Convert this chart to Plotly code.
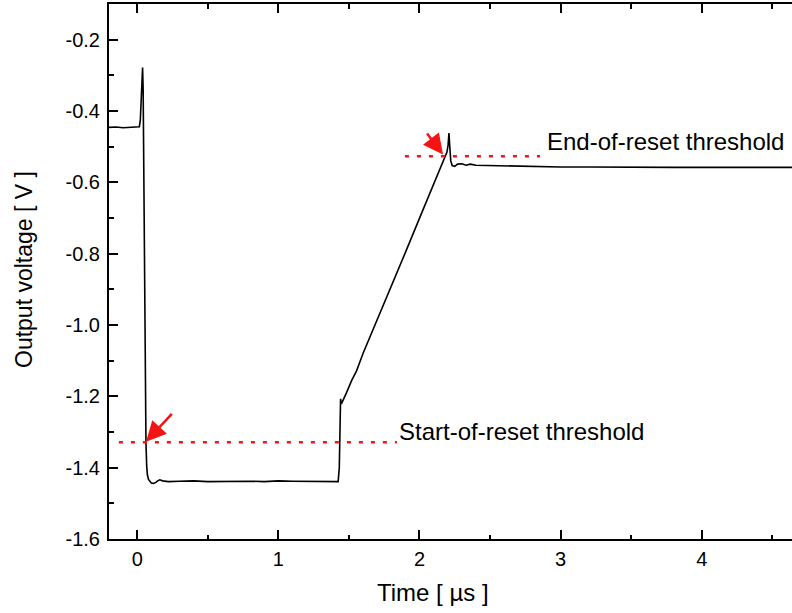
import plotly.graph_objects as go

# ---- data (time in µs, voltage in V) ----
time_us = [
    -0.20, -0.15, -0.10, -0.05, 0.00, 0.015, 0.022, 0.030, 0.038, 0.042, 0.046,
    0.052, 0.058, 0.062, 0.067, 0.072, 0.080, 0.090, 0.100, 0.115, 0.130,
    0.145, 0.160, 0.180, 0.220, 0.30, 0.40, 0.50, 0.60, 0.70, 0.80, 0.90,
    1.00, 1.10, 1.20, 1.30, 1.40, 1.424, 1.432, 1.437, 1.441, 1.447, 1.465,
    1.484, 1.519, 1.555, 1.60, 1.70, 1.80, 1.90, 2.00, 2.10, 2.18, 2.195,
    2.203, 2.209, 2.215, 2.222, 2.232, 2.25, 2.27, 2.30, 2.33, 2.36, 2.40,
    2.50, 2.60, 2.80, 3.00, 3.20, 3.40, 3.60, 3.80, 4.00, 4.20, 4.40, 4.64,
]
voltage_v = [
    -0.446, -0.445, -0.447, -0.446, -0.446, -0.444, -0.425, -0.330, -0.278, -0.340, -0.600,
    -0.900, -1.200, -1.330, -1.395, -1.420, -1.433, -1.440, -1.443, -1.444, -1.442,
    -1.437, -1.434, -1.437, -1.439, -1.438, -1.437, -1.439, -1.438, -1.437, -1.438, -1.439,
    -1.437, -1.438, -1.438, -1.437, -1.438, -1.439, -1.400, -1.300, -1.207, -1.221, -1.203,
    -1.189, -1.156, -1.128, -1.080, -0.987, -0.892, -0.797, -0.701, -0.604, -0.527, -0.515,
    -0.495, -0.462, -0.500, -0.540, -0.553, -0.555, -0.549, -0.548, -0.552, -0.549, -0.552,
    -0.553, -0.554, -0.556, -0.557, -0.557, -0.558, -0.557, -0.558, -0.558, -0.558, -0.559, -0.558,
]

start_threshold_v = -1.329
start_threshold_x = [-0.13, 1.84]
end_threshold_v = -0.527
end_threshold_x = [1.897, 2.855]

x_tick_vals = [0, 1, 2, 3, 4]
x_tick_text = ["0", "1", "2", "3", "4"]
x_minor_vals = [0.5, 1.5, 2.5, 3.5, 4.5]
y_tick_vals = [-1.6, -1.4, -1.2, -1.0, -0.8, -0.6, -0.4, -0.2]
y_tick_text = ["-1.6", "-1.4", "-1.2", "-1.0", "-0.8", "-0.6", "-0.4", "-0.2"]
y_minor_vals = [-1.5, -1.3, -1.1, -0.9, -0.7, -0.5, -0.3, -0.1]

FONT = "Liberation Sans, Arial, sans-serif"
RED = "rgb(245,20,20)"

fig = go.Figure()
fig.add_trace(go.Scatter(x=time_us, y=voltage_v, mode="lines",
                         line=dict(color="black", width=1.6), showlegend=False))
fig.add_trace(go.Scatter(x=start_threshold_x, y=[start_threshold_v] * 2, mode="lines",
                         line=dict(color=RED, width=2.5, dash="4px,8px"), showlegend=False))
fig.add_trace(go.Scatter(x=end_threshold_x, y=[end_threshold_v] * 2, mode="lines",
                         line=dict(color=RED, width=2.5, dash="4px,8px"), showlegend=False))

annotations = [
    # arrows
    dict(x=0.062, y=-1.327, ax=0.255, ay=-1.245, xref="x", yref="y", axref="x", ayref="y",
         text="", showarrow=True, arrowhead=2, arrowsize=1.6, arrowwidth=2.5, arrowcolor=RED),
    dict(x=2.167, y=-0.522, ax=2.046, ay=-0.459, xref="x", yref="y", axref="x", ayref="y",
         text="", showarrow=True, arrowhead=2, arrowsize=1.6, arrowwidth=2.5, arrowcolor=RED),
    # labels
    dict(x=1.843, y=-1.298, xref="x", yref="y", text="Start-of-reset threshold", showarrow=False,
         xanchor="left", yanchor="middle", font=dict(family=FONT, size=24, color="black")),
    dict(x=2.888, y=-0.486, xref="x", yref="y", text="End-of-reset threshold", showarrow=False,
         xanchor="left", yanchor="middle", font=dict(family=FONT, size=24, color="black")),
    # axis titles
    dict(x=(433 - 109) / 683, y=(539 - 592) / 535, xref="paper", yref="paper",
         text="Time [ µs ]", showarrow=False, xanchor="center", yanchor="middle",
         font=dict(family=FONT, size=24, color="black")),
    dict(x=(24 - 109) / 683, y=(539 - 270) / 535, xref="paper", yref="paper",
         text="Output voltage [ V ]", textangle=-90, showarrow=False,
         xanchor="center", yanchor="middle",
         font=dict(family=FONT, size=23, color="black")),
]

fig.update_layout(
    width=792, height=613,
    margin=dict(l=109, r=0, t=4, b=74),
    paper_bgcolor="white", plot_bgcolor="white",
    font=dict(family=FONT, size=20, color="black"),
    annotations=annotations,
    showlegend=False,
)
fig.update_xaxes(
    range=[-0.2, 4.64], showgrid=False, zeroline=False,
    showline=True, linecolor="black", linewidth=2, mirror="ticks",
    ticks="inside", ticklen=9, tickwidth=2, tickcolor="black",
    tickmode="array", tickvals=x_tick_vals, ticktext=x_tick_text,
    ticklabelstandoff=1,
    minor=dict(tickvals=x_minor_vals, ticks="inside", ticklen=4.5, tickwidth=2, tickcolor="black"),
    tickfont=dict(family=FONT, size=20, color="black"),
)
fig.update_yaxes(
    range=[-1.6, -0.1], showgrid=False, zeroline=False,
    showline=True, linecolor="black", linewidth=2, mirror=False,
    ticks="inside", ticklen=9, tickwidth=2, tickcolor="black",
    tickmode="array", tickvals=y_tick_vals, ticktext=y_tick_text,
    ticklabelstandoff=3,
    minor=dict(tickvals=y_minor_vals, ticks="inside", ticklen=4.5, tickwidth=2, tickcolor="black"),
    tickfont=dict(family=FONT, size=20, color="black"),
)

fig.write_html("out.html", config={"displayModeBar": False},
               post_script="document.body.style.margin='0';")
